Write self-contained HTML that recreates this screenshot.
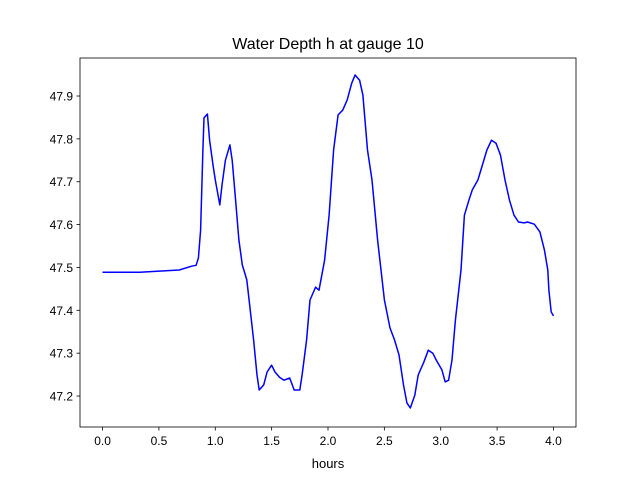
<!DOCTYPE html>
<html><head><meta charset="utf-8"><style>
body{margin:0;background:#fff;font-family:"Liberation Sans","DejaVu Sans",sans-serif}
</style></head><body>
<svg id="chart" width="640" height="480" xmlns="http://www.w3.org/2000/svg">
<rect width="640" height="480" fill="#fff"/>
<text x="328" y="49" text-anchor="middle" font-size="16" fill="#000">Water Depth h at gauge 10</text>
<text x="328" y="468" text-anchor="middle" font-size="13" fill="#000">hours</text>
<g id="plot"></g>
</svg>
<script>
const hours=[0.0,0.33,0.68,0.79,0.83,0.85,0.87,0.89,0.90,0.93,0.95,0.98,1.0,1.04,1.06,1.09,1.13,1.15,1.18,1.21,1.24,1.28,1.30,1.34,1.37,1.39,1.43,1.46,1.50,1.53,1.57,1.61,1.66,1.70,1.75,1.77,1.81,1.84,1.89,1.92,1.97,2.01,2.05,2.09,2.13,2.17,2.21,2.24,2.28,2.31,2.35,2.39,2.44,2.50,2.55,2.59,2.63,2.67,2.70,2.73,2.77,2.80,2.85,2.89,2.93,2.96,3.01,3.04,3.07,3.10,3.13,3.18,3.21,3.25,3.28,3.33,3.37,3.41,3.45,3.49,3.53,3.57,3.61,3.65,3.69,3.74,3.77,3.83,3.88,3.92,3.95,3.96,3.98,4.0];
const depth=[47.489,47.489,47.494,47.503,47.505,47.522,47.587,47.774,47.849,47.858,47.797,47.739,47.704,47.646,47.692,47.75,47.786,47.75,47.657,47.564,47.506,47.471,47.424,47.331,47.249,47.214,47.226,47.256,47.272,47.256,47.244,47.237,47.242,47.214,47.214,47.249,47.331,47.424,47.454,47.447,47.517,47.622,47.774,47.856,47.867,47.891,47.930,47.949,47.937,47.902,47.774,47.704,47.564,47.424,47.359,47.331,47.296,47.226,47.184,47.172,47.202,47.249,47.279,47.307,47.300,47.284,47.261,47.233,47.237,47.284,47.377,47.494,47.622,47.657,47.681,47.704,47.739,47.774,47.797,47.790,47.762,47.704,47.657,47.622,47.606,47.604,47.606,47.601,47.583,47.541,47.494,47.447,47.396,47.387];
const xTicks=[0.0,0.5,1.0,1.5,2.0,2.5,3.0,3.5,4.0];
const yTicks=[47.2,47.3,47.4,47.5,47.6,47.7,47.8,47.9];
const L=80,R=576,T=58,B=427;
const xMin=-0.2,xMax=4.2,yMin=47.1277,yMax=47.9887;
const sx=v=>L+(v-xMin)/(xMax-xMin)*(R-L);
const sy=v=>B-(v-yMin)/(yMax-yMin)*(B-T);
const NS="http://www.w3.org/2000/svg";
const g=document.getElementById('plot');
function mk(t,a){const e=document.createElementNS(NS,t);for(const k in a)e.setAttribute(k,a[k]);g.appendChild(e);return e;}
const d=hours.map((h,i)=>(i?'L':'M')+sx(h).toFixed(1)+','+sy(depth[i]).toFixed(1)).join('');
const line=mk('path',{d:d,fill:'none',stroke:'#0000ff','stroke-width':1.5,'stroke-linejoin':'round'});


const frame=mk('rect',{x:L,y:T,width:R-L,height:B-T,fill:'none',stroke:'#000','stroke-width':0.8});


xTicks.forEach(v=>{const x=sx(v);
 const t=mk('line',{x1:x,x2:x,y1:B,y2:B+3.5,stroke:'#000','stroke-width':0.8});
 
 
 const l=mk('text',{x:x,y:B+18,'text-anchor':'middle','font-size':12});
 
 
 l.textContent=v.toFixed(1);});
yTicks.forEach(v=>{const y=sy(v);
 const t=mk('line',{x1:L-3.5,x2:L,y1:y,y2:y,stroke:'#000','stroke-width':0.8});
 
 
 const l=mk('text',{x:L-7,y:y+4.5,'text-anchor':'end','font-size':12});
 
 
 l.textContent=v.toFixed(1);});
</script>
</body></html>
